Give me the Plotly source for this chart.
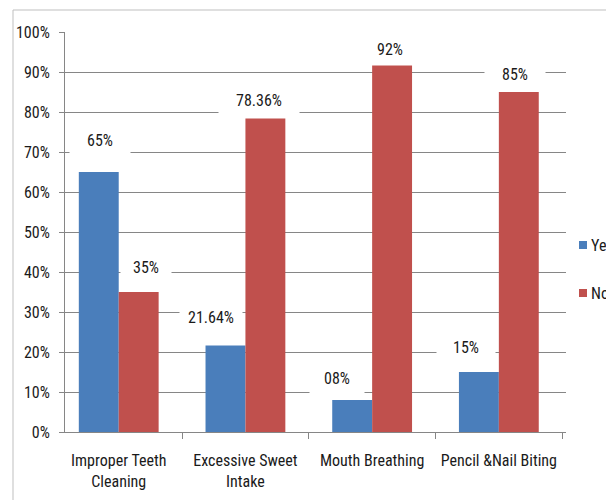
import plotly.graph_objects as go

# ---- data ----
categories = ["Improper Teeth<br>Cleaning", "Excessive Sweet<br>Intake",
              "Mouth Breathing", "Pencil &Nail Biting"]
yes_values = [0.65, 0.2164, 0.08, 0.15]
no_values = [0.35, 0.7836, 0.92, 0.85]
yes_labels = ["65%", "21.64%", "08%", "15%"]
no_labels = ["35%", "78.36%", "92%", "85%"]
series_names = ["Yes", "No"]

# ---- styles ----
BLUE = "#4A7EBB"
RED = "#C0504D"
GRID = "#868686"
FONT = "Liberation Sans Narrow, Arial Narrow, Roboto Condensed, Open Sans, sans-serif"
TXT = "#1a1a1a"

# label placement tweaks (pixels relative to group centre / bar top)
yes_xshift = [-19, -34, -35, -33]
yes_yshift = [32, 28, 22, 25]
no_xshift = [27, 14, 18, 16]
no_yshift = [25, 19, 15, 18]
yes_boxw = [60, 62, 54, 58]
no_boxw = [50, 80, 60, 60]

fig = go.Figure()
fig.add_trace(go.Bar(x=categories, y=yes_values, name=series_names[0],
                     marker=dict(color=BLUE, line=dict(width=0)), showlegend=False))
fig.add_trace(go.Bar(x=categories, y=no_values, name=series_names[1],
                     marker=dict(color=RED, line=dict(width=0)), showlegend=False))

annotations = []
for cat, v, lab, xs, ys, bw in zip(categories, yes_values, yes_labels, yes_xshift, yes_yshift, yes_boxw):
    annotations.append(dict(x=cat, y=v, xref="x", yref="y", text=lab, showarrow=False,
                            xshift=xs, yshift=ys, yanchor="middle", xanchor="center",
                            bgcolor="white", width=bw, height=32, borderpad=0,
                            font=dict(family=FONT, size=16, color=TXT)))
for cat, v, lab, xs, ys, bw in zip(categories, no_values, no_labels, no_xshift, no_yshift, no_boxw):
    annotations.append(dict(x=cat, y=v, xref="x", yref="y", text=lab, showarrow=False,
                            xshift=xs, yshift=ys, yanchor="middle", xanchor="center",
                            bgcolor="white", width=bw, height=32, borderpad=0,
                            font=dict(family=FONT, size=16, color=TXT)))

# plot geometry for paper coordinates
L, R, T, B = 65, 40, 32, 68
W, H = 606, 500
PW, PH = W - L - R, H - T - B


def px(xp):
    return (xp - L) / PW


def py(yp):
    return (H - B - yp) / PH


# custom legend (clipped at right edge like the reference)
legend_y = [245, 293]
legend_colors = [BLUE, RED]
shapes = []
for name, yc, col in zip(series_names, legend_y, legend_colors):
    shapes.append(dict(type="rect", xref="paper", yref="paper",
                       x0=px(579), x1=px(587), y0=py(yc + 4), y1=py(yc - 4),
                       fillcolor=col, line=dict(width=0)))
    annotations.append(dict(x=px(589), y=py(yc), xref="paper", yref="paper", text=name,
                            showarrow=False, xanchor="left", yanchor="middle",
                            font=dict(family=FONT, size=16, color=TXT)))

# outer chart border (top and left)
shapes.append(dict(type="path", xref="paper", yref="paper",
                   path=f"M {px(13)},{py(520)} L {px(13)},{py(10)} L {px(620)},{py(10)}",
                   line=dict(color="#BFBFBF", width=1)))

fig.update_layout(
    width=W, height=H,
    margin=dict(l=L, r=R, t=T, b=B, autoexpand=False),
    paper_bgcolor="white", plot_bgcolor="white",
    barmode="group", bargap=0.37, bargroupgap=0,
    font=dict(family=FONT, size=16, color=TXT),
    annotations=annotations, shapes=shapes,
    xaxis=dict(type="category", range=[-0.424, 3.53], showline=True, linecolor=GRID, linewidth=1,
               ticks="outside", tickson="boundaries", ticklen=6, tickcolor=GRID,
               showgrid=False, ticklabelstandoff=14, automargin=False,
               tickfont=dict(family=FONT, size=16, color=TXT)),
    yaxis=dict(range=[0, 1], dtick=0.1, tickformat=".0%", showline=True, linecolor=GRID,
               linewidth=1, ticks="outside", ticklen=5, tickcolor=GRID,
               showgrid=True, gridcolor=GRID, gridwidth=1, zeroline=False,
               ticklabelstandoff=6, automargin=False,
               tickfont=dict(family=FONT, size=16, color=TXT)),
)

fig.write_html("out.html")
